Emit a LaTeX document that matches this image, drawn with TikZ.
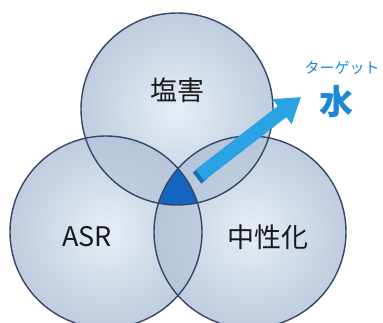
\documentclass[tikz,border=0pt]{standalone}
\usepackage{fontspec}
\setmainfont{Noto Sans CJK JP}
\usetikzlibrary{arrows.meta,calc}
\definecolor{ringc}{HTML}{34476A}
\definecolor{fillin}{HTML}{E6EDF5}
\definecolor{fillout}{HTML}{BFCDDF}
\definecolor{pairc}{HTML}{AFC0D6}
\definecolor{corec}{HTML}{1565BE}
\definecolor{arrowc}{HTML}{2AA3E4}
\definecolor{arrowd}{HTML}{1C6FAE}
\definecolor{targc}{HTML}{1E88D8}
\definecolor{labc}{HTML}{1A1A1A}
\tikzset{
  ring/.style={circle, minimum size=192pt, inner sep=0pt},
  ringfill/.style={inner color=fillin, outer color=fillout},
  ringline/.style={draw=ringc, line width=1.4pt},
  lab/.style={text=labc, font=\fontsize{27}{30}\selectfont},
}
\begin{document}
\begin{tikzpicture}[x=1pt,y=-1pt]
\useasboundingbox (0,0) rectangle (383,323);
\fill[white] (0,0) rectangle (383,323);
% circles
\node[ring] (top) at (177,109) {};
\node[ring] (left) at (106,232) {};
\node[ring] (right) at (250,232) {};
\shade[ringfill] (top.center) circle (96);
\shade[ringfill] (left.center) circle (96);
\shade[ringfill] (right.center) circle (96);
% pairwise overlaps
\begin{scope}
  \clip (top.center) circle (96);
  \fill[pairc, opacity=0.55] (left.center) circle (96);
  \fill[pairc, opacity=0.55] (right.center) circle (96);
\end{scope}
\begin{scope}
  \clip (left.center) circle (96);
  \fill[pairc, opacity=0.55] (right.center) circle (96);
\end{scope}
% triple overlap
\begin{scope}
  \clip (top.center) circle (96);
  \clip (left.center) circle (96);
  \fill[corec] (right.center) circle (96);
\end{scope}
% outlines
\draw[ringline] (top.center) circle (96);
\draw[ringline] (left.center) circle (96);
\draw[ringline] (right.center) circle (96);
% labels
\node[lab] (shio) at (177,90) {塩害};
\node[lab] (asr) at (87,237) {ASR};
\node[lab] (chu) at (268,237) {中性化};
\node[text=targc, font=\fontsize{15}{17}\selectfont] (targ) at (342,68) {ターゲット};
\node[text=targc, font=\fontsize{34}{36}\selectfont\bfseries] (mizu) at (336,102) {水};
% arrow
\coordinate (tail) at (200,175);
\coordinate (tip) at (301,97);
\draw[arrowd, line width=14pt] ($(tail)+(-3,3)$) -- ($(tail)!0.06!(tip)+(-3,3)$);
\draw[arrowc, line width=14pt, -{Triangle[width=30pt,length=24pt]}] (tail) -- (tip);
\end{tikzpicture}
\end{document}
